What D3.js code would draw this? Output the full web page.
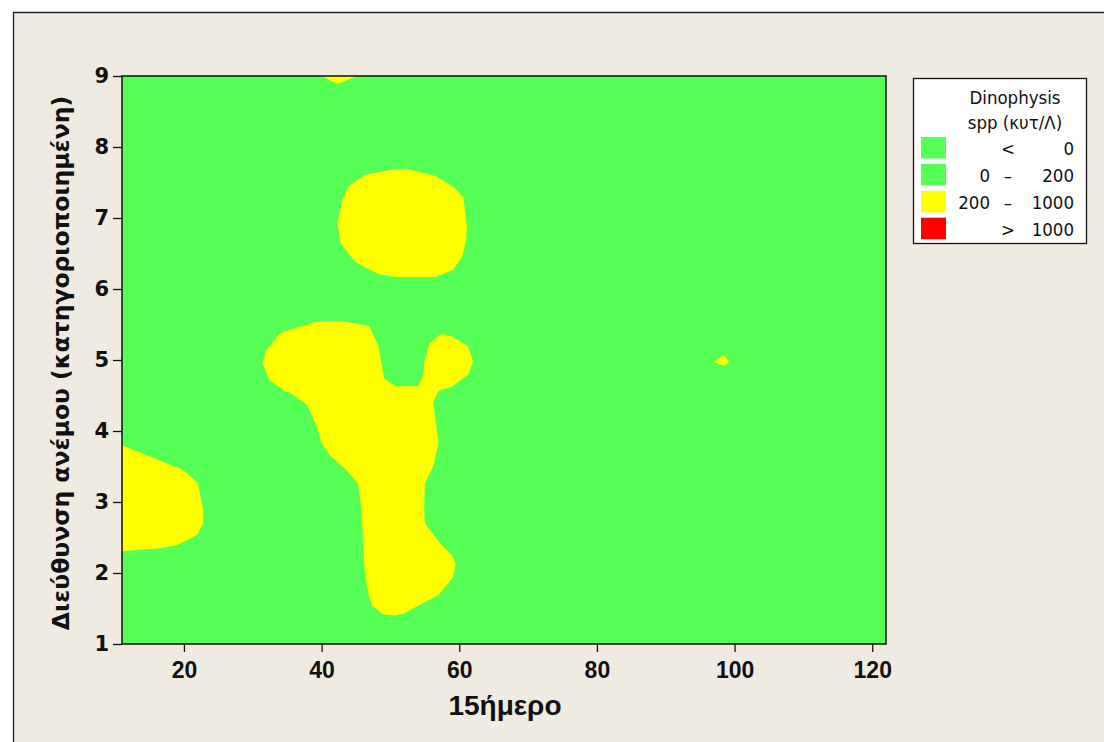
<!DOCTYPE html>
<html><head><meta charset="utf-8">
<script src="https://cdn.jsdelivr.net/npm/d3@7"></script>
<style>body{margin:0;background:#fff;} svg{display:block;}</style>
</head><body>
<svg id="c" width="1104" height="742"></svg>
<script>
// ---- data (data coordinates: x = 15ήμερο, y = wind direction category) ----
const xTicks = [20, 40, 60, 80, 100, 120];
const yTicks = [1, 2, 3, 4, 5, 6, 7, 8, 9];
const legendTitle = ["Dinophysis", "spp (κυτ/Λ)"];
const legendLow = ["", "0", "200", ""];
const legendSym = ["<", "–", "–", ">"];
const legendHigh = ["0", "200", "1000", "1000"];
const legendColors = ["#55FF55", "#55FF55", "#FFFF00", "#FF0000"];
const xTitle = "15ήμερο";
const yTitle = "Διεύθυνση ανέμου (κατηγοριοποιημένη)";

// Contour regions with Dinophysis 200–1000 cells/L (yellow), background 0–200
const blobMiddle = [[34.0,5.38],[39.5,5.55],[42.9,5.55],[46.9,5.48],[48.2,5.21],[49.1,4.74],[50.7,4.63],[54.0,4.63],[54.8,4.79],[54.9,4.98],[55.7,5.24],[57.4,5.37],[58.9,5.33],[61.2,5.20],[62.0,4.98],[61.3,4.80],[58.9,4.62],[57.0,4.57],[56.2,4.41],[57.0,3.83],[56.2,3.50],[55.0,3.26],[54.9,2.89],[55.0,2.70],[57.2,2.42],[58.9,2.25],[59.5,2.13],[59.0,1.93],[57.0,1.69],[51.9,1.43],[50.7,1.40],[48.9,1.42],[47.3,1.55],[46.6,1.78],[46.2,2.11],[45.8,2.89],[45.3,3.26],[43.6,3.45],[41.2,3.66],[40.0,3.83],[39.3,4.06],[37.9,4.37],[35.4,4.54],[34.7,4.56],[32.4,4.72],[31.4,4.96],[32.0,5.14]];
const blobUpper = [[44.0,7.45],[46.3,7.61],[50.7,7.69],[52.4,7.69],[56.5,7.59],[59.1,7.44],[60.6,7.29],[61.1,6.88],[61.0,6.69],[60.4,6.45],[59.1,6.27],[56.5,6.17],[50.9,6.17],[48.2,6.21],[44.9,6.38],[42.8,6.64],[42.3,6.93],[43.1,7.28]];
const blobLeft = [[10.0,3.85],[11.0,3.80],[19.9,3.45],[22.0,3.27],[22.8,2.89],[22.8,2.70],[21.9,2.54],[19.0,2.39],[16.5,2.35],[11.2,2.31],[10.0,2.31]];
const blobTop = [[39.5,9.1],[40.1,9.0],[41.2,8.94],[42.4,8.89],[43.4,8.93],[45.3,9.0],[46.0,9.1]];
const blobSmall = [[96.9,4.97],[98.5,5.07],[99.2,4.97],[98.5,4.92]];
const yellowRegions = [blobMiddle, blobUpper, blobLeft, blobTop, blobSmall];
const xDomain = [11, 122];
const yDomain = [1, 9];

// ---- layout ----
const svg = d3.select("#c");
const W = 1104, H = 742;
const plot = {left: 122, right: 886, top: 76, bottom: 644};

svg.append("rect").attr("x",0).attr("y",0).attr("width",W).attr("height",H).attr("fill","#fff");
svg.append("rect").attr("x",13).attr("y",12).attr("width",W-13).attr("height",H-12).attr("fill","#EFEBE1");
svg.append("path").attr("d",`M13.5,${H} L13.5,12.5 L${W},12.5`).attr("fill","none").attr("stroke","#222").attr("stroke-width",1.3);

const x = d3.scaleLinear().domain(xDomain).range([plot.left, plot.right]);
const y = d3.scaleLinear().domain(yDomain).range([plot.bottom, plot.top]);

svg.append("clipPath").attr("id","pc").append("rect")
  .attr("x",plot.left).attr("y",plot.top).attr("width",plot.right-plot.left).attr("height",plot.bottom-plot.top);

const g = svg.append("g").attr("clip-path","url(#pc)");
g.append("rect").attr("x",plot.left).attr("y",plot.top).attr("width",plot.right-plot.left).attr("height",plot.bottom-plot.top).attr("fill",legendColors[1]);
const line = d3.line().x(d=>x(d[0])).y(d=>y(d[1])).curve(d3.curveLinearClosed);
g.selectAll("path.blob").data(yellowRegions).join("path").attr("class","blob")
  .attr("d",line).attr("fill",legendColors[2]).attr("stroke","none");

svg.append("rect").attr("x",plot.left).attr("y",plot.top).attr("width",plot.right-plot.left).attr("height",plot.bottom-plot.top)
  .attr("fill","none").attr("stroke","#111").attr("stroke-width",1.5);

// axes
const xAxis = svg.append("g").attr("transform",`translate(0,${plot.bottom})`)
  .call(d3.axisBottom(x).tickValues(xTicks).tickSize(8).tickPadding(10));
xAxis.select(".domain").remove();
xAxis.selectAll("line").attr("stroke","#111").attr("stroke-width",1.3);
xAxis.selectAll("text").attr("font-family","'Liberation Sans', Arial, sans-serif")
  .attr("font-weight","bold").attr("font-size",23).attr("fill","#111");

const yAxis = svg.append("g").attr("transform",`translate(${plot.left},0)`)
  .call(d3.axisLeft(y).tickValues(yTicks).tickSize(9).tickPadding(4));
yAxis.select(".domain").remove();
yAxis.selectAll("line").attr("stroke","#111").attr("stroke-width",1.3);
yAxis.selectAll("text").attr("font-family","'DejaVu Sans', sans-serif")
  .attr("font-weight","bold").attr("font-size",21).attr("fill","#111");

svg.append("text").attr("x",(plot.left+plot.right)/2 + 1).attr("y",715).attr("text-anchor","middle")
  .attr("font-family","'Liberation Sans', Arial, sans-serif").attr("font-weight","bold")
  .attr("font-size",28).attr("fill","#111").text(xTitle);

svg.append("text").attr("transform",`translate(69,${(plot.top+plot.bottom)/2+3}) rotate(-90)`)
  .attr("text-anchor","middle").attr("font-family","'DejaVu Sans', sans-serif").attr("font-weight","bold")
  .attr("font-size",23.5).attr("fill","#111").text(yTitle);

// legend
const lg = svg.append("g");
lg.append("rect").attr("x",913.5).attr("y",78.5).attr("width",173).attr("height",165)
  .attr("fill","#fff").attr("stroke","#111").attr("stroke-width",1.3);
const lf = "'DejaVu Sans Condensed', 'DejaVu Sans', sans-serif";
legendTitle.forEach((t,i)=>{
  lg.append("text").attr("x",1015).attr("y",103.5+i*25).attr("text-anchor","middle")
    .attr("font-family",lf).attr("font-size",18.5).attr("fill","#111").text(t);
});
const rows = legendColors.map((c,i)=>({c, lo:legendLow[i], s:legendSym[i], hi:legendHigh[i]}));
const row = lg.selectAll("g.row").data(rows).join("g").attr("class","row")
  .attr("transform",(d,i)=>`translate(0,${137+i*26.9})`);
row.append("rect").attr("x",921).attr("y",0).attr("width",25).attr("height",21.5).attr("fill",d=>d.c);
row.append("text").attr("x",990).attr("y",18).attr("text-anchor","end").attr("font-family",lf).attr("font-size",18.5).attr("fill","#111").text(d=>d.lo);
row.append("text").attr("x",1008).attr("y",18).attr("text-anchor","middle").attr("font-family",lf).attr("font-size",18.5).attr("fill","#111").text(d=>d.s);
row.append("text").attr("x",1074).attr("y",18).attr("text-anchor","end").attr("font-family",lf).attr("font-size",18.5).attr("fill","#111").text(d=>d.hi);
</script>
</body></html>
